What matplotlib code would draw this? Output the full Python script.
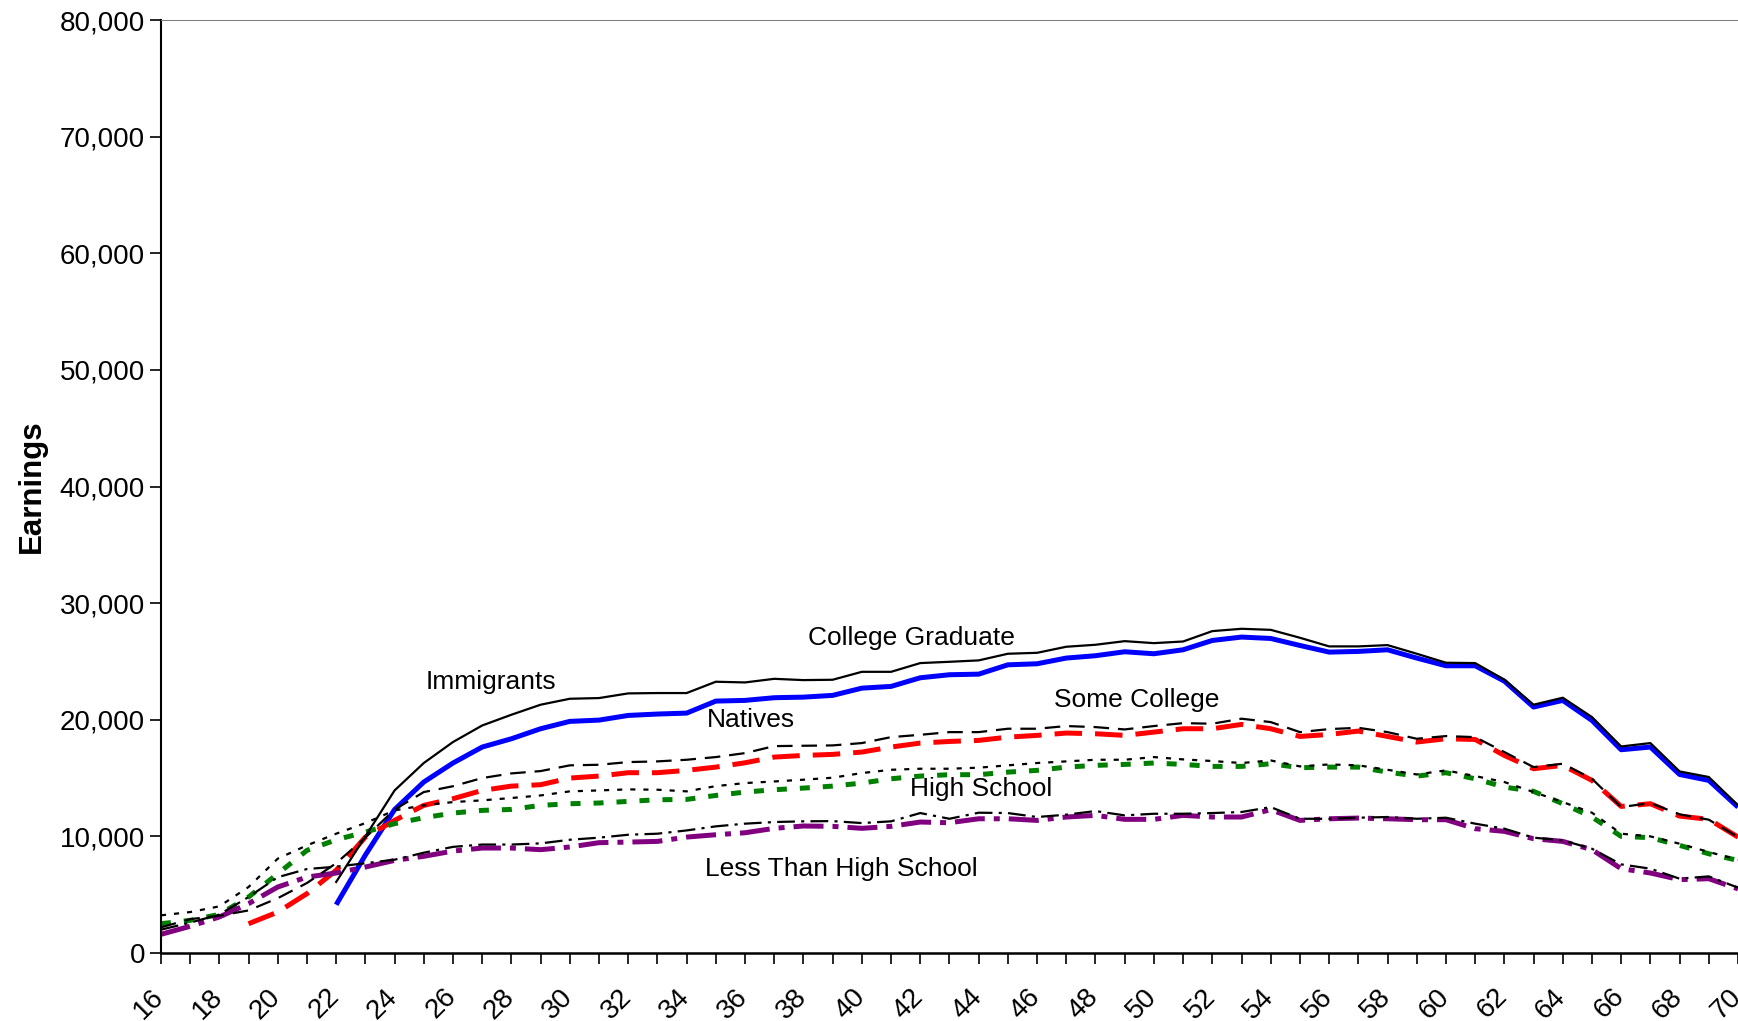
import matplotlib
matplotlib.use('Agg')
import matplotlib.pyplot as plt
from matplotlib.ticker import FuncFormatter, MultipleLocator
from matplotlib.transforms import ScaledTranslation

plt.rcParams['font.family'] = ['Liberation Sans', 'DejaVu Sans']

# ages 16..70
ages = list(range(16, 71))

# Natives (thick coloured lines)
nat_college_ages = list(range(22, 71))
nat_college = [4140, 8400, 12300, 14660, 16290, 17660, 18370, 19230,
               19860, 19970, 20370, 20490, 20570, 21600, 21660, 21890, 21940, 22090,
               22710, 22860, 23600, 23860, 23910, 24710, 24800, 25290, 25490, 25830,
               25660, 26000, 26800, 27090, 26970, 26370, 25800, 25860, 26000, 25290,
               24630, 24630, 23310, 21090, 21660, 19940, 17430, 17660, 15310, 14800, 12510]

nat_some_ages = list(range(19, 71))
nat_some = [2510, 3510, 5090, 7090, 9940, 11370, 12660, 13230, 13940, 14310, 14430,
            15000, 15170, 15460, 15460, 15660, 15940, 16310, 16800, 16940, 17030,
            17230, 17660, 18000, 18140, 18230, 18510, 18660, 18860, 18800, 18660,
            18940, 19230, 19230, 19600, 19230, 18570, 18740, 19030, 18570, 18090,
            18370, 18310, 16940, 15800, 16090, 14800, 12570, 12800, 11740, 11460, 9940]

nat_hs = [2510, 2800, 3310, 4800, 6800, 8800, 9710, 10370, 11090, 11600, 12000, 12230,
          12310, 12660, 12800, 12860, 13000, 13140, 13170, 13510, 13800, 14000, 14140,
          14310, 14570, 14940, 15170, 15290, 15290, 15510, 15660, 15940, 16090, 16170,
          16290, 16170, 16000, 16000, 16230, 15890, 15940, 15940, 15510, 15170, 15460,
          14940, 14230, 13860, 12800, 11660, 10000, 9890, 9230, 8510, 7940]

nat_lths = [1600, 2290, 3090, 4230, 5660, 6510, 6860, 7370, 7940, 8290, 8740, 9000,
            9000, 8860, 9090, 9460, 9510, 9570, 9940, 10140, 10310, 10690, 10890,
            10860, 10690, 10860, 11230, 11170, 11510, 11510, 11370, 11660, 11800,
            11460, 11460, 11800, 11660, 11660, 12290, 11370, 11510, 11570, 11510,
            11430, 11430, 10660, 10430, 9800, 9570, 8860, 7230, 6860, 6290, 6370, 5500]

# Immigrants (thin black lines)
imm_college_ages = list(range(22, 71))
imm_college = [6090, 10000, 13940, 16290, 18090, 19510, 20430, 21290,
               21800, 21860, 22260, 22290, 22290, 23260, 23200, 23510, 23400, 23430,
               24110, 24110, 24860, 24970, 25090, 25660, 25740, 26260, 26430, 26740,
               26570, 26710, 27600, 27800, 27710, 27030, 26290, 26290, 26400, 25660,
               24890, 24860, 23430, 21290, 21890, 20230, 17710, 18000, 15570, 15090, 12660]

imm_some = [2200, 2900, 3200, 3650, 4700, 6000, 7700, 9900, 12300, 13800, 14300, 15000,
            15400, 15600, 16090, 16140, 16370, 16430, 16570, 16800, 17140, 17740, 17770,
            17800, 18000, 18510, 18710, 18940, 18940, 19230, 19230, 19460, 19370, 19170,
            19460, 19710, 19660, 20090, 19800, 18940, 19200, 19310, 18940, 18370, 18600,
            18510, 17230, 15940, 16230, 14940, 12510, 12860, 11890, 11430, 9940]

imm_hs = [3230, 3510, 4000, 5660, 8090, 9230, 10230, 11140, 12230, 12660, 12940, 13090,
          13290, 13510, 13860, 13940, 14030, 14000, 13860, 14310, 14570, 14710, 14860,
          15030, 15430, 15710, 15800, 15800, 15890, 16090, 16290, 16430, 16570, 16570,
          16800, 16600, 16460, 16290, 16510, 16000, 16170, 16090, 15710, 15310, 15660,
          15170, 14660, 13800, 12940, 12030, 10230, 10000, 9370, 8660, 8000]

imm_lths = [2000, 2600, 3300, 4800, 6500, 7200, 7400, 7700, 8000, 8600, 9100, 9300,
            9300, 9400, 9710, 9890, 10140, 10230, 10510, 10860, 11090, 11230, 11290,
            11310, 11140, 11290, 12000, 11510, 12030, 12000, 11660, 11860, 12170, 11800,
            11940, 11940, 12000, 12090, 12510, 11510, 11510, 11600, 11660, 11510, 11600,
            11090, 10660, 9890, 9660, 8940, 7600, 7230, 6370, 6570, 5600]

fig = plt.figure(figsize=(17.38, 10.21), dpi=100)
ax = fig.add_axes([0.0926, 0.0666, 0.9074, 0.9138])

# natives
ax.plot(nat_college_ages, nat_college, color='#0000FF', lw=3.6, solid_capstyle='butt', zorder=2)
ax.plot(nat_some_ages, nat_some, color='#FF0000', lw=3.6, linestyle=(0, (5.5, 2.6)), zorder=2)
ax.plot(ages, nat_hs, color='#008000', lw=3.6, linestyle=(0, (2, 2.6)), zorder=2)
ax.plot(ages, nat_lths, color='#800080', lw=3.6, linestyle=(0, (6, 1.8, 1.2, 1.8)), zorder=2)

# immigrants
ax.plot(imm_college_ages, imm_college, color='black', lw=1.6, zorder=3)
ax.plot(ages, imm_some, color='black', lw=1.6, linestyle=(0, (7, 4)), zorder=3)
ax.plot(ages, imm_hs, color='black', lw=1.6, linestyle=(0, (2.3, 3.6)), zorder=3)
ax.plot(ages, imm_lths, color='black', lw=1.6, linestyle=(0, (8, 2.8, 1.4, 2.8)), zorder=3)

# labels
tkw = dict(fontsize=19, ha='center', va='center')
ax.text(41.7, 27000, 'College Graduate', **tkw)
ax.text(27.3, 23200, 'Immigrants', **tkw)
ax.text(36.2, 20000, 'Natives', **tkw)
ax.text(49.4, 21700, 'Some College', **tkw)
ax.text(44.1, 14100, 'High School', **tkw)
ax.text(39.3, 7200, 'Less Than High School', **tkw)

ax.set_xlim(16, 70)
ax.set_ylim(0, 80000)
ax.xaxis.set_major_locator(MultipleLocator(2))
ax.xaxis.set_minor_locator(MultipleLocator(1))
ax.yaxis.set_major_locator(MultipleLocator(10000))
ax.yaxis.set_major_formatter(FuncFormatter(lambda v, p: f'{int(v):,}'))

ax.tick_params(axis='both', direction='out', length=8, width=1.2, labelsize=20, color='black')
ax.tick_params(axis='x', which='minor', direction='out', length=8, width=1.2)
ax.tick_params(axis='x', pad=14)
shift = ScaledTranslation(-10 / 100, 0, fig.dpi_scale_trans)
for lab in ax.get_xticklabels():
    lab.set_rotation(45)
    lab.set_ha('right')
    lab.set_rotation_mode('anchor')
    lab.set_transform(lab.get_transform() + shift)

ax.set_ylabel('Earnings', fontsize=22.5, fontweight='bold', labelpad=9)

ax.spines['right'].set_visible(False)
ax.spines['top'].set_color('#808080')
ax.spines['left'].set_linewidth(1.5)
ax.spines['bottom'].set_linewidth(1.8)

fig.savefig('out.png', dpi=100)
